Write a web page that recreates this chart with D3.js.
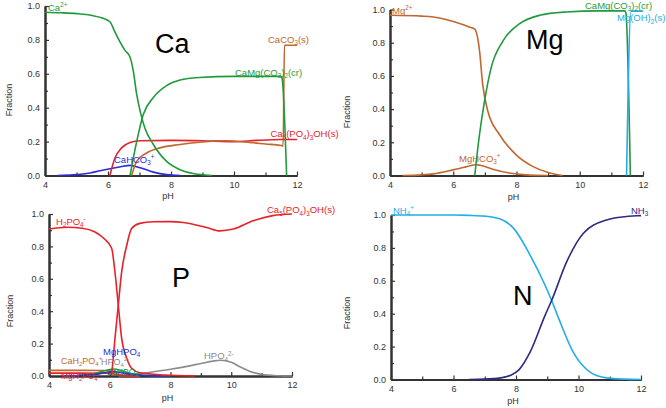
<!DOCTYPE html>
<html><head><meta charset="utf-8">
<script src="https://cdn.jsdelivr.net/npm/d3@7"></script>
<style>body{margin:0;background:#fff}svg{display:block}text{font-family:"Liberation Sans",Arial,sans-serif}</style>
</head><body>
<script>
// ---------- DATA (pH, fraction) ----------
const xTickLabels = [4, 6, 8, 10, 12];
const xMinorTicks = [5, 7, 9, 11];
const yTickLabels = [0, 0.2, 0.4, 0.6, 0.8, 1.0];
const yMinorTicks = [0.1, 0.3, 0.5, 0.7, 0.9];

// Ca panel
const caFree = [[4,0.963],[4.5,0.96],[5,0.955],[5.5,0.944],[5.8,0.93],[6.06,0.907],[6.22,0.847],[6.38,0.788],[6.54,0.738],[6.70,0.698],[6.8,0.62],[6.91,0.48],[7.02,0.38],[7.17,0.28],[7.44,0.183],[7.86,0.083],[8.29,0.034],[8.7,0.012],[9.1,0.003],[9.3,0]];
const caDolomite = [[6.7,0],[6.8,0.1],[6.91,0.2],[7.12,0.36],[7.44,0.46],[7.86,0.53],[8.29,0.563],[8.9,0.578],[10,0.585],[11.5,0.585],[11.53,0.57],[11.67,0]];
const caCalcite = [[6.75,0],[6.91,0.083],[7.23,0.133],[7.65,0.163],[8.29,0.183],[9,0.198],[9.7,0.205],[10.5,0.195],[11,0.186],[11.5,0.177],[11.56,0.175],[11.6,0.768],[12,0.768]];
const caApatite = [[6.06,0],[6.22,0.103],[6.43,0.163],[6.70,0.195],[7.02,0.205],[8,0.207],[9,0.205],[10,0.2],[10.7,0.207],[11.5,0.212],[12,0.212]];
const caHCO3 = [[4.4,0],[4.9,0.004],[5.43,0.015],[5.75,0.028],[6.06,0.04],[6.4,0.052],[6.7,0.06],[7.02,0.046],[7.44,0.02],[7.86,0.005],[8.3,0]];

// Mg panel
const mgFree = [[4,0.965],[5,0.96],[5.37,0.955],[5.8,0.938],[6.2,0.915],[6.5,0.895],[6.68,0.882],[6.83,0.753],[6.93,0.55],[7.09,0.39],[7.46,0.247],[7.98,0.126],[8.51,0.055],[9.0,0.018],[9.45,0]];
const mgHCO3 = [[4.4,0],[5,0.004],[5.37,0.01],[5.99,0.034],[6.4,0.052],[6.73,0.065],[6.85,0.062],[7.25,0.038],[7.77,0.015],[8.3,0.004],[9,0]];
const mgDolomite = [[6.68,0],[6.83,0.247],[6.99,0.45],[7.2,0.65],[7.57,0.81],[8.1,0.915],[8.73,0.965],[9.57,0.985],[10.6,0.992],[11.43,0.992],[11.46,0.98],[11.6,0]];
const mgBrucite = [[11.48,0],[11.62,0.99],[12,0.99]];

// P panel
const pH2PO4 = [[4,0.907],[4.6,0.918],[5.1,0.912],[5.5,0.89],[5.8,0.85],[6.06,0.79],[6.17,0.645],[6.28,0.44],[6.39,0.235],[6.56,0.11],[6.72,0.048],[7.0,0.02],[7.8,0.006],[8.8,0]];
const pApatite = [[6.06,0],[6.17,0.228],[6.28,0.435],[6.39,0.64],[6.56,0.807],[6.72,0.91],[6.99,0.942],[7.43,0.952],[8,0.953],[8.42,0.948],[9.19,0.917],[9.63,0.896],[10.07,0.907],[10.72,0.958],[11.37,0.99],[12,1.0]];
const pHPO4 = [[6.3,0],[6.6,0.006],[7,0.015],[7.5,0.028],[8,0.042],[8.5,0.058],[9,0.077],[9.4,0.092],[9.65,0.097],[10,0.085],[10.3,0.055],[10.6,0.03],[11,0.01],[11.5,0.002],[12,0]];
const pMgHPO4 = [[4.5,0],[5,0.003],[5.5,0.01],[5.9,0.022],[6.12,0.027],[6.3,0.023],[6.6,0.013],[7,0.005],[7.5,0.001],[8,0]];
const pCaHPO4 = [[4.5,0],[5,0.005],[5.5,0.015],[5.9,0.035],[6.12,0.043],[6.35,0.036],[6.6,0.02],[7,0.008],[7.5,0.002],[8,0]];
const pCaH2PO4 = [[4,0.035],[5,0.035],[5.8,0.034],[6.06,0.031],[6.2,0.018],[6.35,0.007],[6.6,0.001],[7,0]];
const pMgH2PO4 = [[4,0.018],[5,0.018],[5.8,0.017],[6.06,0.016],[6.2,0.01],[6.35,0.004],[6.6,0.001],[7,0]];

// N panel
const nNH4 = [[4,1],[6,1],[6.5,0.998],[7,0.993],[7.5,0.975],[7.92,0.92],[8.45,0.756],[8.93,0.573],[9.14,0.48],[9.41,0.35],[9.83,0.166],[10.37,0.045],[10.9,0.01],[11.5,0.002],[12,0]];
const nNH3 = [[6.5,0],[7,0.002],[7.5,0.01],[7.81,0.024],[8.1,0.06],[8.45,0.166],[8.93,0.39],[9.14,0.48],[9.62,0.715],[10.15,0.888],[10.9,0.97],[11.4,0.988],[11.86,0.995],[12,0.996]];

// ---------- STYLE ----------
const C = {green:"#1f9a3c", red:"#e82127", brown:"#c0662e", blue:"#2b2bd6", lblue:"#22aee6", navy:"#2b2b82", gray:"#8c8c8c"};

const svg = d3.select("body").append("svg").attr("width",666).attr("height",408);

function richText(g, x, y, str, color, size) {
  const t = g.append("text").attr("x",x).attr("y",y).attr("fill",color).attr("font-size",size);
  const re = /([_^])\{([^}]*)\}|([^_^]+)/g;
  let m, off = 0;
  while ((m = re.exec(str)) !== null) {
    if (m[3]) {
      t.append("tspan").attr("dy", -off).text(m[3]); off = 0;
    } else {
      const d = m[1] === "_" ? size*0.28 : -size*0.36;
      t.append("tspan").attr("dy", d - off).attr("font-size", size*0.66).text(m[2]); off = d;
    }
  }
  return t;
}

function panel(cfg) {
  const g = svg.append("g");
  const x = d3.scaleLinear().domain([4,12]).range([cfg.x0,cfg.x1]);
  const y = d3.scaleLinear().domain([0,1]).range([cfg.y0,cfg.y1]);
  const axCol = "#333";
  const ax = g.append("g").attr("transform",`translate(0,${cfg.y0})`)
    .call(d3.axisBottom(x).tickValues(xTickLabels).tickSize(-4).tickSizeOuter(0).tickPadding(6).tickFormat(d3.format("d")));
  const axm = g.append("g").attr("transform",`translate(0,${cfg.y0})`)
    .call(d3.axisBottom(x).tickValues(xMinorTicks).tickSize(-3).tickSizeOuter(0).tickFormat(""));
  const ay = g.append("g").attr("transform",`translate(${cfg.x0},0)`)
    .call(d3.axisLeft(y).tickValues(yTickLabels).tickSize(-4).tickSizeOuter(0).tickPadding(5).tickFormat(d3.format(".1f")));
  const aym = g.append("g").attr("transform",`translate(${cfg.x0},0)`)
    .call(d3.axisLeft(y).tickValues(yMinorTicks).tickSize(-3).tickSizeOuter(0).tickFormat(""));
  [ax,axm,ay,aym].forEach(a=>{
    a.select(".domain").attr("stroke",axCol).attr("stroke-width",2);
    a.selectAll(".tick line").attr("stroke",axCol).attr("stroke-width",1.2);
    a.selectAll(".tick text").attr("fill","#333").attr("font-size",9).attr("font-family","Liberation Sans, Arial, sans-serif");
  });
  const line = d3.line().x(d=>x(d[0])).y(d=>y(d[1])).curve(d3.curveMonotoneX);
  cfg.series.forEach(s=>{
    g.append("path").datum(s.data).attr("d",line).attr("fill","none")
      .attr("stroke",s.color).attr("stroke-width",1.6).attr("stroke-linejoin","round");
  });
  g.append("text").attr("x",(cfg.x0+cfg.x1)/2 - 3).attr("y",cfg.phY).attr("text-anchor","middle")
    .attr("font-size",9).attr("fill","#333").text("pH");
  g.append("text").attr("transform",`translate(${cfg.fx},${cfg.fy}) rotate(-90)`).attr("text-anchor","middle")
    .attr("font-size",9).attr("fill","#333").text("Fraction");
  g.append("text").attr("x",cfg.big[1]).attr("y",cfg.big[2]).attr("font-size",27).attr("fill","#000").text(cfg.big[0]);
  cfg.labels.forEach(l=>{
    richText(g, l[1], l[2], l[0], l[3], l[4] || 9.5);
  });
}

panel({x0:45,x1:297,y0:175.5,y1:6,phY:198.5,fx:12,fy:100,big:["Ca",155,53],
  series:[{data:caHCO3,color:C.blue},{data:caApatite,color:C.red},{data:caCalcite,color:C.brown},{data:caFree,color:C.green},{data:caDolomite,color:C.green}],
  labels:[["Ca^{2+}",48,10.5,C.green],["CaMg(CO_{3})_{2}(cr)",235,75.5,C.green],["CaCO_{3}(s)",268,42.5,C.brown],["Ca_{5}(PO_{4})_{3}OH(s)",270.5,137,C.red],["CaHCO_{3}^{+}",114,162.5,C.blue]]});

panel({x0:390,x1:643,y0:175.5,y1:9.5,phY:200,fx:350,fy:112,big:["Mg",526,48.5],
  series:[{data:mgFree,color:C.brown},{data:mgHCO3,color:C.brown},{data:mgDolomite,color:C.green},{data:mgBrucite,color:C.lblue}],
  labels:[["Mg^{2+}",392,13.5,C.brown],["CaMg(CO_{3})_{2}(cr)",585,8.5,C.green],["Mg(OH)_{2}(s)",617,21,C.lblue],["MgHCO_{3}^{+}",459,161.5,C.brown]]});

panel({x0:49,x1:292,y0:376,y1:214,phY:401,fx:13,fy:311,big:["P",172,287],
  series:[{data:pHPO4,color:C.gray},{data:pCaH2PO4,color:C.brown},{data:pMgH2PO4,color:C.red},{data:pCaHPO4,color:C.green},{data:pMgHPO4,color:C.blue},{data:pH2PO4,color:C.red},{data:pApatite,color:C.red}],
  labels:[["H_{2}PO_{4}^{-}",56,224.5,C.red],["Ca_{5}(PO_{4})_{3}OH(s)",267,213,C.red],["MgHPO_{4}",103,354.5,C.blue],["CaH_{2}PO_{4}^{+}",61,363.5,C.brown,9],["HPO_{4}^{2-}",101,364.5,C.gray,9],["CaHPO_{4}",106,375,C.green,8.5],["MgH_{2}PO_{4}^{+}",61,379,C.red,8.5],["HPO_{4}^{2-}",204,359,C.gray]]});

panel({x0:391,x1:641,y0:379.5,y1:215,phY:404,fx:350,fy:313,big:["N",513,305],
  series:[{data:nNH4,color:C.lblue},{data:nNH3,color:C.navy}],
  labels:[["NH_{4}^{+}",393,213.5,C.lblue],["NH_{3}",631,213.5,C.navy]]});
</script>
</body></html>
